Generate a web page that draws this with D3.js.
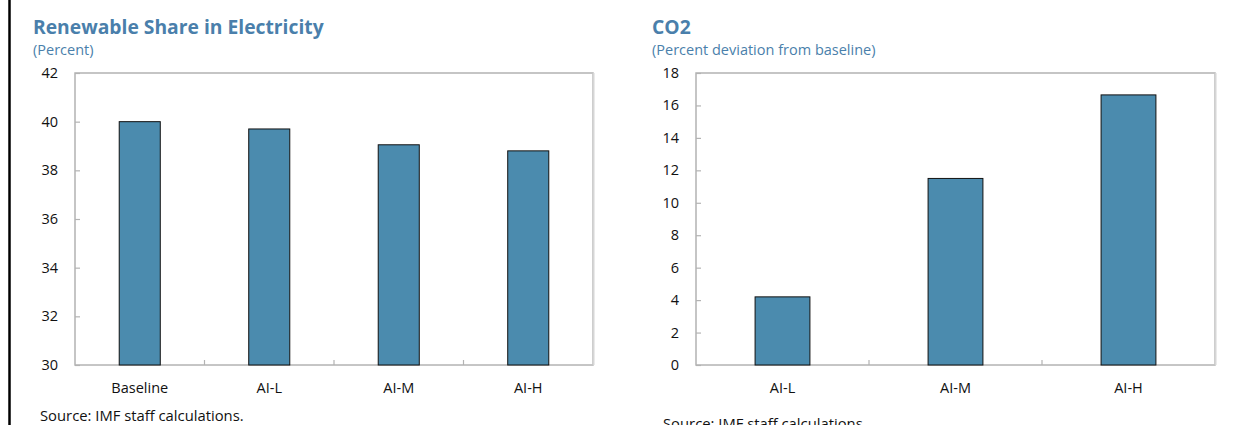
<!DOCTYPE html>
<html>
<head>
<meta charset="utf-8">
<script src="https://cdn.jsdelivr.net/npm/d3@7/dist/d3.min.js"></script>
<style>
  html, body { margin: 0; padding: 0; background: #fff; }
  svg { display: block; font-family: "Open Sans", "Noto Sans", sans-serif; }
</style>
</head>
<body>
<svg id="chart" width="1234" height="425"></svg>
<script>
// Renewable share in electricity (percent)
const renewCategories = ["Baseline", "AI-L", "AI-M", "AI-H"];
const renewValues = [40.0, 39.7, 39.05, 38.8];
const renewTicks = [30, 32, 34, 36, 38, 40, 42];

// CO2 (percent deviation from baseline)
const co2Categories = ["AI-L", "AI-M", "AI-H"];
const co2Values = [4.2, 11.5, 16.65];
const co2Ticks = [0, 2, 4, 6, 8, 10, 12, 14, 16, 18];

const titleColor = "#4a7fab";
const barColor = "#4b8bae";
const frameColor = "#b3b3b3";

const svg = d3.select("#chart");

// left page rule
svg.append("line")
  .attr("x1", 9.5).attr("x2", 9.5).attr("y1", 0).attr("y2", 425)
  .attr("stroke", "#000").attr("stroke-width", 2.5);

function panel(opt) {
  const g = svg.append("g");
  const { left, right, top, bottom } = opt;

  g.append("text")
    .attr("x", opt.titleX).attr("y", 34)
    .attr("fill", titleColor)
    .attr("font-size", 19.3).attr("font-weight", 700)
    .text(opt.title);
  g.append("text")
    .attr("x", opt.titleX).attr("y", 55)
    .attr("fill", titleColor)
    .attr("font-size", 14.5)
    .text(opt.subtitle);

  const x = d3.scaleBand().domain(opt.categories).range([left, right])
    .paddingInner(0.683).paddingOuter(0.683 / 2);
  const y = d3.scaleLinear().domain(opt.domain).range([bottom, top]);

  // frame
  g.append("rect")
    .attr("x", left).attr("y", top)
    .attr("width", right - left).attr("height", bottom - top)
    .attr("fill", "none").attr("stroke", frameColor).attr("stroke-width", 1.5);
  g.append("line")
    .attr("x1", right + 0.5).attr("x2", right + 0.5).attr("y1", top).attr("y2", bottom)
    .attr("stroke", "#d6d6d6").attr("stroke-width", 2);

  // y axis: labels outside, short ticks pointing into the plot
  const yAxis = d3.axisRight(y).tickValues(opt.ticks).tickSize(5).tickFormat("");
  const ya = g.append("g").attr("transform", `translate(${left},0)`).call(yAxis);
  ya.select(".domain").remove();
  ya.selectAll("line").attr("stroke", frameColor).attr("stroke-width", 1.2);
  g.selectAll(".ylab").data(opt.ticks).enter().append("text")
    .attr("x", left - 17).attr("y", d => y(d) + 5)
    .attr("text-anchor", "end")
    .attr("font-size", 14.5).attr("fill", "#111")
    .text(d => d);

  // x boundary ticks between categories
  const band = x.step();
  const bounds = d3.range(1, opt.categories.length).map(i => left + i * band);
  g.selectAll(".xt").data(bounds).enter().append("line")
    .attr("x1", d => d).attr("x2", d => d)
    .attr("y1", bottom).attr("y2", bottom - 5)
    .attr("stroke", frameColor).attr("stroke-width", 1.2);

  // bars
  g.selectAll(".bar").data(opt.values).enter().append("rect")
    .attr("x", (d, i) => x(opt.categories[i]))
    .attr("y", d => y(d))
    .attr("width", x.bandwidth())
    .attr("height", d => y(opt.domain[0]) - y(d))
    .attr("fill", barColor).attr("stroke", "#111").attr("stroke-width", 1);

  // category labels
  g.selectAll(".xlab").data(opt.categories).enter().append("text")
    .attr("x", d => x(d) + x.bandwidth() / 2)
    .attr("y", bottom + 28)
    .attr("text-anchor", "middle")
    .attr("font-size", 14.5).attr("fill", "#111")
    .text(d => d);

  g.append("text")
    .attr("x", opt.sourceX).attr("y", opt.sourceY)
    .attr("font-size", 14.8).attr("fill", "#111")
    .text("Source: IMF staff calculations.");
}

panel({
  title: "Renewable Share in Electricity", subtitle: "(Percent)", titleX: 33,
  categories: renewCategories, values: renewValues, ticks: renewTicks, domain: [30, 42],
  left: 75, right: 593, top: 73, bottom: 365, sourceX: 40, sourceY: 421
});

panel({
  title: "CO2", subtitle: "(Percent deviation from baseline)", titleX: 652,
  categories: co2Categories, values: co2Values, ticks: co2Ticks, domain: [0, 18],
  left: 696, right: 1215, top: 73, bottom: 365, sourceX: 663, sourceY: 429
});
</script>
</body>
</html>
